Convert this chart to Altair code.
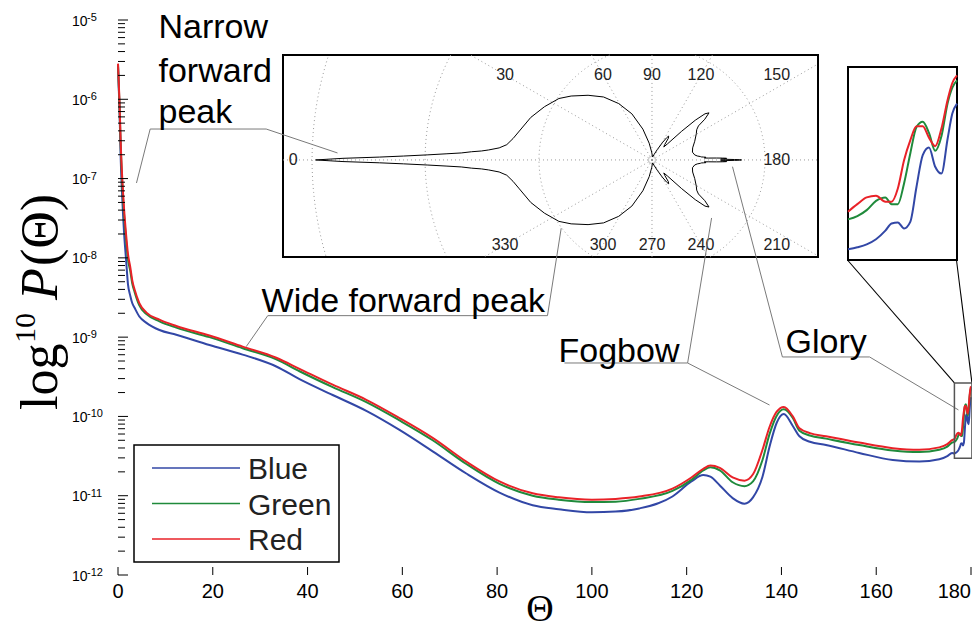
import math
import altair as alt
import pandas as pd

# ---------------- data (log10 of P) ----------------
SERIES = ["Blue", "Green", "Red"]
COLORS = ["#3247a6", "#1f8a3b", "#e92228"]

theta = [0, 0.3, 0.6, 0.9, 1.3, 1.7, 2.1, 2.6, 3.0, 3.5,
         4.5, 6, 8.75, 12.3, 19.3, 26.3, 33.4, 38.3, 45.3, 52.4,
         59.4, 66.4, 73.5, 80.5, 87.5, 93, 100, 105, 110, 117,
         121, 123.5, 125, 127, 129.7, 132.2, 134, 136, 137.5, 139,
         140.5, 142.4, 143.8, 146, 149.4, 156.4, 163.5, 169.1, 173.3, 175,
         176]
red = [-5.55, -6.0, -6.6, -7.0, -7.4, -7.7, -7.95, -8.12, -8.28, -8.4,
       -8.57, -8.69, -8.78, -8.86, -8.98, -9.12, -9.26, -9.40, -9.60, -9.79,
       -10.02, -10.27, -10.57, -10.82, -10.97, -11.02, -11.05, -11.04, -11.01, -10.91,
       -10.77, -10.66, -10.62, -10.65, -10.77, -10.81, -10.73, -10.42, -10.13, -9.94,
       -9.88, -10.0, -10.15, -10.21, -10.25, -10.33, -10.40, -10.42, -10.39, -10.35,
       -10.30]
green = [-5.56, -6.05, -6.65, -7.07, -7.47, -7.77, -8.02, -8.17, -8.32, -8.43,
         -8.60, -8.71, -8.80, -8.88, -9.00, -9.14, -9.28, -9.43, -9.63, -9.82,
         -10.05, -10.30, -10.60, -10.85, -11.00, -11.05, -11.08, -11.075, -11.04, -10.94,
         -10.80, -10.68, -10.64, -10.68, -10.83, -10.88, -10.82, -10.55, -10.22, -9.99,
         -9.91, -10.02, -10.18, -10.24, -10.28, -10.36, -10.43, -10.45, -10.42, -10.38,
         -10.33]
blue = [-5.58, -6.1, -6.8, -7.25, -7.7, -8.02, -8.33, -8.48, -8.57, -8.63,
        -8.74, -8.82, -8.91, -8.97, -9.10, -9.22, -9.37, -9.53, -9.73, -9.93,
        -10.17, -10.44, -10.72, -10.96, -11.12, -11.17, -11.21, -11.20, -11.16, -11.01,
        -10.82, -10.74, -10.76, -10.87, -11.03, -11.10, -11.02, -10.76, -10.38, -10.08,
        -9.97, -10.12, -10.25, -10.32, -10.36, -10.46, -10.55, -10.57, -10.54, -10.50,
        -10.46]

zoom_theta = [176.5, 176.8, 177.1, 177.4, 177.7, 177.9, 178.1, 178.3, 178.5,
              178.7, 178.9, 179.1, 179.3, 179.5, 179.7, 179.85, 180.0]
zoom_red = [-10.285, -10.248, -10.215, -10.207, -10.236, -10.236, -10.172, -10.034, -9.937,
            -9.868, -9.868, -9.924, -9.966, -9.880, -9.739, -9.658, -9.621]
zoom_green = [-10.322, -10.306, -10.277, -10.232, -10.215, -10.248, -10.248, -10.147, -10.001,
              -9.872, -9.847, -9.901, -9.988, -9.917, -9.755, -9.680, -9.645]
zoom_blue = [-10.468, -10.458, -10.444, -10.419, -10.377, -10.342, -10.337, -10.366, -10.334,
             -10.163, -10.009, -9.972, -10.066, -10.099, -9.928, -9.807, -9.758]

x_ticks = [0, 20, 40, 60, 80, 100, 120, 140, 160, 180]
y_decades = [-12, -11, -10, -9, -8, -7, -6, -5]
polar_angles = [0, 30, 60, 90, 120, 150, 180, 210, 240, 270, 300, 330]

# ---------------- tables ----------------
W, H = 853, 555
rows = []
for name, base, zm in zip(SERIES, [blue, green, red], [zoom_blue, zoom_green, zoom_red]):
    for t, v in zip(theta + zoom_theta, base + zm):
        rows.append({"series": name, "theta": t, "logP": v})
df_main = pd.DataFrame(rows)
df_zoom = df_main[df_main["theta"] >= zoom_theta[0]]

color_scale = alt.Scale(domain=SERIES, range=COLORS)


def xs():
    return alt.Scale(domain=[0, 180], nice=False, zero=False)


def ys():
    return alt.Scale(domain=[-12, -5], nice=False, zero=False)


# ---------------- main panel ----------------
lines = alt.Chart(df_main).mark_line(strokeWidth=2, interpolate="monotone").encode(
    x=alt.X("theta:Q", scale=xs(), axis=alt.Axis(
        labels=False, ticks=False, grid=False, domainColor="black", domainWidth=1.5, title=None)),
    y=alt.Y("logP:Q", scale=ys(), axis=alt.Axis(
        labels=False, ticks=False, grid=False, domainColor="black", domainWidth=1.5, title=None)),
    color=alt.Color("series:N", scale=color_scale, legend=None),
)

df_ymaj = pd.DataFrame({"L": y_decades})
df_ymin = pd.DataFrame({"L": [d + math.log10(k) for d in y_decades[:-1] for k in range(2, 10)]})
ymaj = alt.Chart(df_ymaj).mark_rule(color="black", strokeWidth=1).encode(
    y=alt.Y("L:Q", scale=ys(), axis=None), x=alt.value(0), x2=alt.value(10))
ymin = alt.Chart(df_ymin).mark_rule(color="black", strokeWidth=1).encode(
    y=alt.Y("L:Q", scale=ys(), axis=None), x=alt.value(0), x2=alt.value(7))

df_xt = pd.DataFrame({"t": x_ticks, "lab": [str(v) for v in x_ticks]})
xtk = alt.Chart(df_xt).mark_rule(color="black", strokeWidth=1).encode(
    x=alt.X("t:Q", scale=xs(), axis=None), y=alt.value(H), y2=alt.value(H - 8))
xlab = alt.Chart(df_xt[df_xt["t"] < 180]).mark_text(
    font="Liberation Sans", fontSize=20, baseline="alphabetic", align="center", color="black"
).encode(x=alt.X("t:Q", scale=xs(), axis=None), y=alt.value(H + 23), text="lab:N")
xlab_end = alt.Chart(df_xt[df_xt["t"] == 180]).mark_text(
    font="Liberation Sans", fontSize=20, baseline="alphabetic", align="right", dx=0, color="black"
).encode(x=alt.X("t:Q", scale=xs(), axis=None), y=alt.value(H + 23), text="lab:N")

df_ylab = pd.DataFrame({"L": y_decades, "base": ["10"] * len(y_decades),
                        "exp": [str(d) for d in y_decades]})
ylab_base = alt.Chart(df_ylab).mark_text(
    font="Liberation Sans", fontSize=14, align="left", baseline="alphabetic", dy=5.5, color="black"
).encode(y=alt.Y("L:Q", scale=ys(), axis=None), x=alt.value(-46), text="base:N")
ylab_exp = alt.Chart(df_ylab).mark_text(
    font="Liberation Sans", fontSize=11, align="left", baseline="alphabetic", dy=1, color="black"
).encode(y=alt.Y("L:Q", scale=ys(), axis=None), x=alt.value(-31), text="exp:N")

one = pd.DataFrame({"a": [0]})


def title_piece(txt, x, y, size, style="normal", angle=270, align="left"):
    return alt.Chart(one).mark_text(
        font="Liberation Serif", fontSize=size, fontStyle=style, angle=angle,
        align=align, baseline="alphabetic", color="black"
    ).encode(x=alt.value(x), y=alt.value(y), text=alt.value(txt))


ytitle = (title_piece("log", -61, 390, 52) + title_piece("10", -83, 323, 30)
          + title_piece("P", -61, 280, 52, "italic") + title_piece("(Θ)", -61, 246, 52))
xtitle = title_piece("Θ", 422, H + 46, 38, angle=0, align="center")

main = alt.layer(lines, ymaj, ymin, xtk, xlab, xlab_end, ylab_base, ylab_exp, ytitle, xtitle)

# ---------------- polar inset ----------------
BX0, BX1, BY0, BY1 = -6.09, 2.74, -1.60, 1.73
C = -11.1


def pxs():
    return alt.Scale(domain=[BX0, BX1], range=[165, 700], nice=False, zero=False)


def pys():
    return alt.Scale(domain=[BY0, BY1], range=[237, 35], nice=False, zero=False)


pbox = alt.Chart(pd.DataFrame({"x": [BX0], "x2": [BX1], "y": [BY0], "y2": [BY1]})).mark_rect(
    fill="white", stroke="black", strokeWidth=2).encode(
    x=alt.X("x:Q", scale=pxs(), axis=None), x2="x2:Q",
    y=alt.Y("y:Q", scale=pys(), axis=None), y2="y2:Q")

ring_rows = []
seg = 0
for R in [1.865, 3.745, 5.61]:
    inside_prev = False
    for i in range(0, 721):
        a = math.radians(i * 0.5)
        x, y = R * math.cos(a), R * math.sin(a)
        inside = BX0 <= x <= BX1 and BY0 <= y <= BY1
        if inside and not inside_prev:
            seg += 1
        if inside:
            ring_rows.append({"seg": seg, "i": i, "x": x, "y": y})
        inside_prev = inside
prings = alt.Chart(pd.DataFrame(ring_rows)).mark_line(
    color="#9a9a9a", strokeWidth=1, strokeDash=[1, 3]).encode(
    x=alt.X("x:Q", scale=pxs(), axis=None), y=alt.Y("y:Q", scale=pys(), axis=None),
    detail="seg:N", order="i:Q")

rad_rows = []
lab_rows = []
for a in polar_angles:
    ang = math.radians(a)
    dx, dy = -math.cos(ang), math.sin(ang)
    ts = []
    if dx < -1e-9:
        ts.append(BX0 / dx)
    if dx > 1e-9:
        ts.append(BX1 / dx)
    if dy > 1e-9:
        ts.append(BY1 / dy)
    if dy < -1e-9:
        ts.append(BY0 / dy)
    t = min(ts)
    rad_rows.append({"x": 0.0, "y": 0.0, "x2": t * dx, "y2": t * dy})
    if a == 0:
        lx, ly = -5.92, 0.0
    elif a == 180:
        lx, ly = 2.06, 0.0
    else:
        ly = 1.40 if a < 180 else -1.40
        lx = min(max(ly / dy * dx, -5.92), 2.06)
    lab_rows.append({"x": lx, "y": ly, "lab": str(a)})
prad = alt.Chart(pd.DataFrame(rad_rows)).mark_rule(
    color="#9a9a9a", strokeWidth=1, strokeDash=[1, 3]).encode(
    x=alt.X("x:Q", scale=pxs(), axis=None), y=alt.Y("y:Q", scale=pys(), axis=None),
    x2="x2:Q", y2="y2:Q")
pcenter = alt.Chart(pd.DataFrame({"x": [0.0], "y": [0.0]})).mark_point(
    shape="circle", size=50, filled=False, color="#9a9a9a", strokeWidth=0.8).encode(
    x=alt.X("x:Q", scale=pxs(), axis=None), y=alt.Y("y:Q", scale=pys(), axis=None))
plabels = alt.Chart(pd.DataFrame(lab_rows)).mark_text(
    font="Liberation Sans", fontSize=16, color="#222222", align="center", baseline="middle").encode(
    x=alt.X("x:Q", scale=pxs(), axis=None), y=alt.Y("y:Q", scale=pys(), axis=None), text="lab:N")

full_t = theta + zoom_theta
full_r = red + zoom_red
upper = [(t, max(v - C, 0.0)) for t, v in zip(full_t, full_r)]
prow = []
k = 0
for t, r in upper:
    a = math.radians(t)
    prow.append({"i": k, "x": -r * math.cos(a), "y": r * math.sin(a)})
    k += 1
for t, r in reversed(upper):
    a = math.radians(t)
    prow.append({"i": k, "x": -r * math.cos(a), "y": -r * math.sin(a)})
    k += 1
pcurve = alt.Chart(pd.DataFrame(prow)).mark_line(color="black", strokeWidth=1.0).encode(
    x=alt.X("x:Q", scale=pxs(), axis=None), y=alt.Y("y:Q", scale=pys(), axis=None), order="i:Q")

polar = alt.layer(pbox, prings, prad, pcenter, pcurve, plabels)

# ---------------- zoom inset ----------------
ZX0, ZX1, ZY0, ZY1 = 176.5, 180.0, -10.52, -9.58


def zxs():
    return alt.Scale(domain=[ZX0, ZX1], range=[730, 839], nice=False, zero=False)


def zys():
    return alt.Scale(domain=[ZY0, ZY1], range=[240, 47], nice=False, zero=False)


zbox = alt.Chart(pd.DataFrame({"x": [ZX0], "x2": [ZX1], "y": [ZY0], "y2": [ZY1]})).mark_rect(
    fill="white", stroke="black", strokeWidth=2).encode(
    x=alt.X("x:Q", scale=zxs(), axis=None), x2="x2:Q",
    y=alt.Y("y:Q", scale=zys(), axis=None), y2="y2:Q")
zlines = alt.Chart(df_zoom).mark_line(strokeWidth=2, interpolate="monotone").encode(
    x=alt.X("theta:Q", scale=zxs(), axis=None), y=alt.Y("logP:Q", scale=zys(), axis=None),
    color=alt.Color("series:N", scale=color_scale, legend=None))
zoom = alt.layer(zbox, zlines)

# ---------------- legend ----------------
leg_box = alt.Chart(one).mark_rect(fill="white", stroke="black", strokeWidth=1.5).encode(
    x=alt.value(16), x2=alt.value(221), y=alt.value(425), y2=alt.value(542))
df_leg = pd.DataFrame({"series": SERIES, "row": [0, 1, 2]})
leg_y = alt.Y("row:Q", scale=alt.Scale(domain=[0, 2], range=[448, 519], nice=False, zero=False), axis=None)
leg_rule = alt.Chart(df_leg).mark_rule(strokeWidth=1.3).encode(
    y=leg_y, x=alt.value(34), x2=alt.value(122),
    color=alt.Color("series:N", scale=color_scale, legend=None))
leg_text = alt.Chart(df_leg).mark_text(
    font="Liberation Sans", fontSize=30, align="left", baseline="alphabetic", dy=11, color="#222222"
).encode(y=leg_y, x=alt.value(130), text="series:N")
legend = alt.layer(leg_box, leg_rule, leg_text)

# ---------------- annotations (main coordinates) ----------------
df_ann = pd.DataFrame({
    "label": ["Narrow", "forward", "peak", "Wide forward peak", "Fogbow", "Glory"],
    "theta": [8.55, 8.55, 8.55, 30.3, 92.95, 140.85],
    "L": [-5.227, -5.782, -6.299, -8.683, -9.313, -9.200],
})
ann_text = alt.Chart(df_ann).mark_text(
    font="Liberation Sans", fontSize=34, align="left", baseline="alphabetic", color="black"
).encode(x=alt.X("theta:Q", scale=xs(), axis=None), y=alt.Y("L:Q", scale=ys(), axis=None), text="label:N")

leaders = {
    "narrow": [(3.90, -7.056), (6.79, -6.375), (31.27, -6.375), (46.32, -6.677)],
    "wide": [(27.05, -9.12), (31.6, -8.729), (90.63, -8.729), (93.52, -7.627)],
    "fog1": [(94.2, -9.326), (120.2, -9.326), (125.26, -7.497)],
    "fog2": [(120.2, -9.326), (137.48, -9.856)],
    "glory1": [(129.67, -6.85), (140.2, -9.25), (158.6, -9.25)],
    "glory2": [(158.6, -9.25), (177.35, -9.918)],
}
lrows = [{"id": k, "i": i, "theta": p[0], "L": p[1]}
         for k, pts in leaders.items() for i, p in enumerate(pts)]
ann_lines = alt.Chart(pd.DataFrame(lrows)).mark_line(color="#7a7a7a", strokeWidth=1).encode(
    x=alt.X("theta:Q", scale=xs(), axis=None), y=alt.Y("L:Q", scale=ys(), axis=None),
    detail="id:N", order="i:Q")

connectors = {
    "c1": [(176.5, -9.578), (153.93, -8.027)],
    "c2": [(180.2, -9.578), (176.93, -8.027)],
}
crows = [{"id": k, "i": i, "theta": p[0], "L": p[1]}
         for k, pts in connectors.items() for i, p in enumerate(pts)]
conn_lines = alt.Chart(pd.DataFrame(crows)).mark_line(color="black", strokeWidth=1.1).encode(
    x=alt.X("theta:Q", scale=xs(), axis=None), y=alt.Y("L:Q", scale=ys(), axis=None),
    detail="id:N", order="i:Q")
small_box = alt.Chart(pd.DataFrame({"t0": [176.5], "t1": [180.2], "l0": [-10.528], "l1": [-9.578]})).mark_rect(
    fillOpacity=0, stroke="#555555", strokeWidth=1.5).encode(
    x=alt.X("t0:Q", scale=xs(), axis=None), x2="t1:Q",
    y=alt.Y("l0:Q", scale=ys(), axis=None), y2="l1:Q")

annot = alt.layer(ann_lines, conn_lines, small_box, ann_text)

chart = alt.layer(main, polar, zoom, legend, annot).resolve_scale(
    x="independent", y="independent"
).properties(
    width=W, height=H,
    autosize=alt.AutoSizeParams(type="none"),
    padding={"left": 110, "top": 12, "right": 1, "bottom": 57},
    background="white",
).configure_view(stroke=None)

chart.save("out.html", embed_options={"renderer": "svg", "actions": False})
